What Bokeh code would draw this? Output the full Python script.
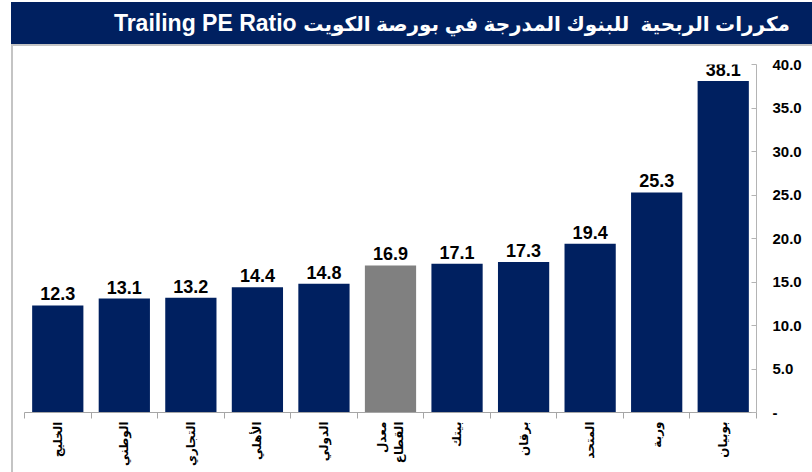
from math import pi
from bokeh.plotting import figure
from bokeh.models import (ColumnDataSource, Range1d, LinearAxis,
                          FixedTicker, PrintfTickFormatter, Div)
from bokeh.layouts import column, row
from bokeh.core.properties import value
from bokeh.embed import file_html
from bokeh.resources import INLINE

# ---- data ----
banks = ["الخليج", "الوطني", "التجاري", "الأهلي", "الدولي", "معدل\nالقطاع",
         "بيتك", "برقان", "المتحد", "وربة", "بوبيان"]
pe_ratio = [12.3, 13.1, 13.2, 14.4, 14.8, 16.9, 17.1, 17.3, 19.4, 25.3, 38.1]
y_ticks = [0, 5, 10, 15, 20, 25, 30, 35, 40]
title_en = "Trailing PE Ratio"
title_ar = "مكررات الربحية  للبنوك المدرجة في بورصة الكويت"

NAVY = "#002060"
GRAY_BAR = "#808080"
n = len(banks)
centers = [i + 0.5 for i in range(n)]
colors = [GRAY_BAR if b.startswith("معدل") else NAVY for b in banks]
labels = ["%.1f" % v for v in pe_ratio]

src = ColumnDataSource(dict(x=centers, bank=banks, pe=pe_ratio, color=colors, lbl=labels))

p = figure(x_range=Range1d(0, n), y_range=Range1d(0, 40),
           width=799, height=426, frame_width=732, frame_height=348,
           min_border_left=11, min_border_right=56, min_border_top=18, min_border_bottom=60,
           x_axis_location=None, y_axis_location="right",
           output_backend="svg", toolbar_location=None, tools="")

p.vbar(x="x", top="pe", width=0.77, fill_color="color", line_color=None, source=src)
p.text(x="x", y="pe", text="lbl", source=src, text_align="center", text_baseline="bottom",
       y_offset=-5, text_font=value("Liberation Sans"), text_font_style="bold",
       text_font_size=value("18px"), text_color="black")

# category axis: names at centres, separator ticks at boundaries (minor ticks)
cat_axis = LinearAxis(ticker=FixedTicker(ticks=centers, minor_ticks=list(range(n + 1))),
                      major_label_overrides={c: b for c, b in zip(centers, banks)},
                      axis_line_color="#a6a6a6", major_tick_line_color=None,
                      minor_tick_line_color="#a6a6a6", minor_tick_in=0, minor_tick_out=6,
                      major_tick_in=0, major_tick_out=6,
                      major_label_orientation=pi / 2, major_label_standoff=3,
                      major_label_text_font="DejaVu Sans", major_label_text_font_style="bold",
                      major_label_text_font_size="12px",
                      major_label_text_color="black")
p.add_layout(cat_axis, "below")

ya = p.yaxis[0]
ya.ticker = FixedTicker(ticks=y_ticks)
ya.formatter = PrintfTickFormatter(format="%.1f")
ya.major_label_overrides = {0: "-"}
ya.major_label_text_font = "Liberation Sans"
ya.major_label_text_font_style = "bold"
ya.major_label_text_font_size = "15px"
ya.major_label_text_color = "black"
ya.major_label_standoff = 16
ya.axis_line_color = "#b4b4b4"
ya.major_tick_line_color = "#b4b4b4"
ya.major_tick_in = 5
ya.major_tick_out = 0
ya.minor_tick_line_color = None

p.xgrid.visible = False
p.ygrid.visible = False
p.outline_line_color = None
p.background_fill_color = "white"
p.border_fill_color = "white"

title = Div(text=('<div style="box-sizing:border-box;width:801px;height:42px;line-height:42px;'
                  'text-align:right;padding-right:22px;'
                  'color:white;font-weight:bold;font-family:\'Liberation Sans\',\'DejaVu Sans\';'
                  'background:%s;white-space:pre;">'
                  '<span style="font-size:23px;">%s</span>  '
                  '<span style="font-size:20px;">%s</span></div>') % (NAVY, title_en, title_ar),
            width=801, height=42, margin=(2, 0, 0, 11))
hline = Div(text="", width=801, height=2, margin=(0, 0, 0, 11),
            styles={"background-color": "#c4c4c4"})
vline = Div(text="", width=2, height=426, margin=(0, 0, 0, 11),
            styles={"background-color": "#c4c4c4"})

layout = column(title, hline, row(vline, p, spacing=0), spacing=0)

open("out.html", "w").write(file_html(layout, INLINE))
